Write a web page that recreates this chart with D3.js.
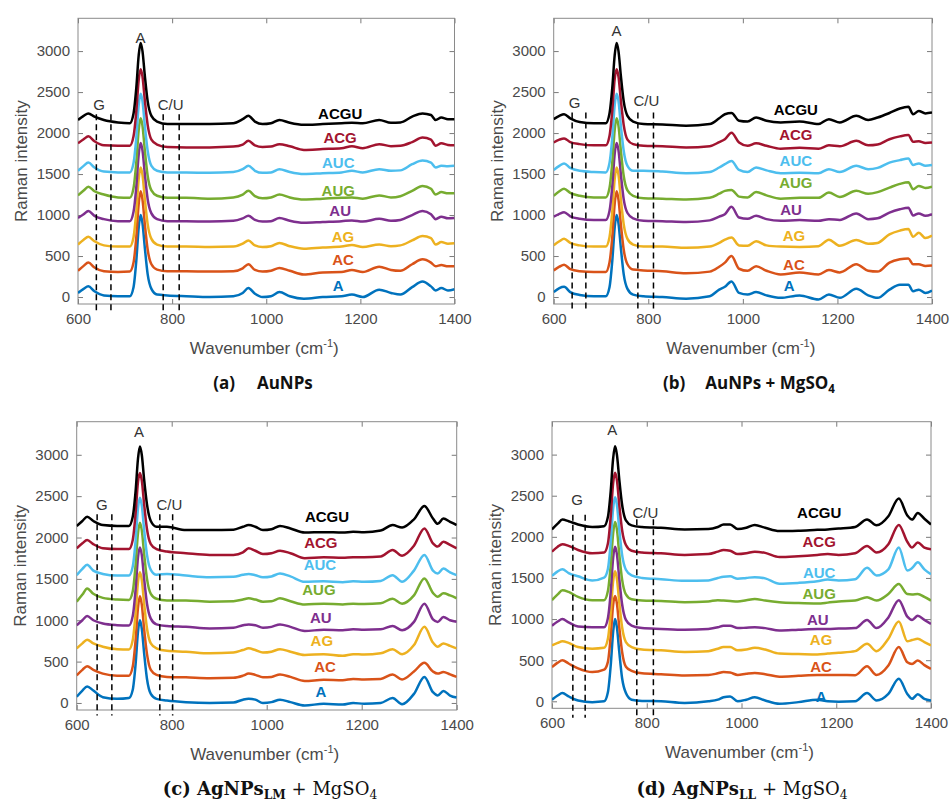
<!DOCTYPE html>
<html>
<head>
<meta charset="utf-8">
<script src="https://d3js.org/d3.v7.min.js"></script>
<style>
  body { margin:0; background:#fff; }
  text { font-family: "Liberation Sans", Arial, sans-serif; }
</style>
</head>
<body>
<script>
// shared wavenumber grid (cm-1)
var wn = [600,612,622,635,655,685, 710,718,724,729,733,737,742,748,756,768,
          790,830,880,930,950,962,976,992,1010,1028,1050,1080,1120,1160,1182,1205,
          1240,1265,1285,1310,1332,1350,1360,1372,1386,1400];

var names  = ["A","AC","AG","AU","AUG","AUC","ACG","ACGU"];
var colors = ["#0072BD","#D95319","#EDB120","#7E2F8E","#77AC30","#4DBEEE","#A2142F","#000000"];
var xTicks = [600,800,1000,1200,1400];
var yTicks = [0,500,1000,1500,2000,2500,3000];

// (a) AuNPs
var aSpectra = [
 [50,100,130,70,20,10, 10,120,450,850,1000,900,600,280,100,30, 20,10,0,10,50,110,40,0,10,60,10,-20,0,10,30,0,90,50,30,120,190,130,80,110,80,95],
 [320,380,420,360,315,305, 310,420,740,1140,1290,1190,890,580,400,335, 315,315,310,315,350,400,330,310,320,355,320,275,300,305,330,305,370,330,320,400,460,420,375,390,375,375],
 [640,700,735,680,630,615, 615,730,1050,1440,1580,1490,1195,890,710,640, 615,615,610,615,650,690,630,610,620,660,620,590,605,615,635,610,640,620,630,690,745,720,640,670,650,655],
 [965,1010,1050,990,950,925, 925,1040,1350,1740,1880,1790,1500,1195,1020,950, 925,925,920,930,960,990,940,920,925,965,930,905,915,925,935,920,955,930,940,1000,1050,1010,950,980,960,965],
 [1240,1300,1345,1290,1250,1215, 1210,1330,1650,2040,2180,2090,1790,1480,1300,1235, 1210,1210,1200,1215,1250,1295,1230,1205,1215,1250,1215,1190,1200,1210,1215,1200,1240,1215,1230,1295,1355,1320,1250,1280,1265,1265],
 [1540,1600,1640,1580,1530,1520, 1520,1635,1950,2340,2480,2390,2090,1785,1600,1540, 1520,1520,1515,1525,1560,1600,1540,1515,1520,1560,1525,1500,1510,1520,1540,1520,1560,1540,1545,1620,1665,1640,1580,1600,1595,1600],
 [1875,1925,1960,1900,1850,1845, 1845,1960,2270,2650,2780,2690,2400,2100,1920,1860, 1830,1825,1825,1835,1860,1905,1850,1830,1835,1865,1840,1795,1805,1815,1840,1815,1865,1840,1845,1890,1945,1920,1845,1875,1855,1850],
 [2160,2210,2240,2200,2160,2130, 2120,2240,2560,2950,3100,3000,2700,2390,2210,2140, 2110,2110,2110,2120,2170,2210,2140,2110,2120,2160,2125,2100,2110,2120,2125,2120,2160,2125,2130,2200,2240,2220,2160,2190,2170,2170]
];
var aLabelWn  = [1153,1163,1163,1157,1153,1153,1157,1157];
var aLabelVal = [139,456,739,1056,1300,1637,1950,2242];
var aDashes   = [639,670,781,815];

// (b) AuNPs + MgSO4
var bSpectra = [
 [60,110,125,60,25,10, 10,120,450,850,1000,900,600,280,100,30, 10,0,-20,10,90,125,190,50,30,60,20,-10,20,-30,30,-10,100,20,-10,90,150,150,70,90,50,80],
 [325,370,395,340,315,305, 305,420,740,1140,1290,1190,890,580,400,335, 325,315,290,310,370,420,500,345,320,375,320,275,300,275,330,300,400,320,310,420,460,470,400,400,380,385],
 [630,680,710,660,630,615, 615,730,1050,1440,1580,1490,1195,890,710,640, 615,615,600,615,660,700,725,630,625,680,630,615,610,620,700,625,695,650,660,765,810,830,735,785,720,750],
 [980,1015,1035,985,955,940, 940,1050,1360,1750,1880,1790,1500,1195,1025,960, 930,925,915,935,980,1010,1100,970,955,990,950,930,940,930,950,940,1020,950,960,1030,1070,1090,995,1020,990,1010],
 [1235,1290,1320,1270,1235,1215, 1215,1330,1650,2040,2180,2090,1790,1480,1300,1235, 1205,1200,1190,1210,1260,1295,1305,1225,1215,1280,1240,1200,1210,1210,1275,1220,1295,1260,1280,1335,1380,1400,1315,1355,1330,1345],
 [1550,1600,1630,1575,1540,1525, 1520,1635,1950,2340,2480,2390,2090,1785,1600,1540, 1540,1530,1510,1525,1580,1620,1660,1550,1525,1580,1545,1510,1515,1510,1560,1525,1600,1560,1575,1640,1670,1690,1610,1630,1600,1610],
 [1885,1920,1935,1890,1865,1850, 1850,1965,2280,2660,2780,2690,2400,2100,1920,1865, 1845,1840,1825,1840,1890,1925,2005,1885,1845,1875,1845,1810,1820,1810,1850,1840,1905,1850,1860,1925,1960,1975,1895,1900,1880,1885],
 [2170,2210,2230,2180,2135,2120, 2120,2240,2560,2950,3100,3000,2700,2390,2210,2140, 2110,2105,2090,2110,2180,2230,2245,2150,2140,2190,2150,2130,2140,2110,2170,2130,2210,2160,2190,2245,2300,2320,2230,2270,2240,2250]
];
var bLabelWn  = [1098,1108,1108,1102,1112,1112,1112,1112];
var bLabelVal = [140,400,750,1070,1390,1660,1985,2290];
var bDashes   = [639,668,778,811];

// (c) AgNPs LM + MgSO4
var cSpectra = [
 [75,150,200,150,70,50, 60,160,470,860,1000,900,600,290,110,50, 30,10,0,5,40,50,40,0,10,40,10,-30,-10,-20,0,-10,0,60,-15,110,315,130,90,145,90,65],
 [335,400,445,400,355,330, 330,440,760,1150,1290,1190,890,590,400,340, 315,310,300,305,330,355,340,310,315,345,315,265,280,275,290,285,290,345,285,380,485,380,355,375,345,315],
 [660,720,765,720,680,650, 645,760,1080,1460,1580,1490,1200,900,720,660, 630,620,600,610,640,660,640,610,620,650,620,580,590,570,590,585,600,650,590,700,920,730,680,720,690,660],
 [940,1000,1050,1000,960,940, 935,1050,1370,1760,1880,1790,1500,1200,1020,950, 930,920,900,910,940,950,940,910,920,950,920,870,885,880,890,885,890,930,880,980,1200,1010,980,1040,1000,980],
 [1225,1310,1385,1320,1270,1250, 1245,1350,1670,2050,2180,2090,1800,1500,1320,1260, 1240,1240,1225,1230,1250,1265,1250,1225,1230,1265,1230,1190,1200,1190,1200,1195,1205,1260,1200,1300,1505,1330,1285,1325,1300,1265],
 [1545,1620,1670,1600,1560,1540, 1540,1650,1960,2350,2480,2390,2090,1790,1610,1550, 1560,1540,1520,1525,1550,1560,1545,1520,1530,1565,1530,1465,1470,1460,1470,1465,1475,1545,1465,1600,1790,1600,1565,1625,1580,1545],
 [1870,1930,1970,1920,1870,1860, 1860,1970,2290,2670,2780,2690,2400,2100,1920,1860, 1830,1810,1790,1790,1820,1870,1840,1800,1810,1840,1810,1750,1760,1755,1760,1760,1770,1850,1780,1900,2110,1930,1890,1950,1910,1870],
 [2140,2200,2250,2200,2150,2140, 2140,2250,2560,2950,3100,3000,2700,2400,2200,2130, 2130,2090,2090,2095,2130,2150,2130,2090,2100,2140,2110,2060,2065,2060,2070,2065,2085,2150,2120,2220,2380,2230,2165,2230,2190,2150]
];
var cLabelWn  = [1114,1123,1116,1114,1110,1112,1114,1127];
var cLabelVal = [140,435,750,1035,1365,1675,1935,2250];
var cDashes   = [643,674,775,802];

// (d) AgNPs LL + MgSO4
var dSpectra = [
 [20,70,100,60,10,-10, 0,110,440,840,1000,900,600,280,100,20, 5,0,-20,0,20,50,60,0,20,50,10,-30,-10,20,0,-5,0,100,10,90,275,90,30,85,30,10],
 [415,470,500,460,400,355, 385,480,800,1170,1280,1190,900,600,420,370, 340,330,315,320,340,355,350,320,335,345,330,300,310,320,320,320,318,425,320,435,660,475,455,495,440,395],
 [680,710,730,710,660,640, 650,760,1080,1460,1580,1490,1200,900,720,660, 630,620,600,610,640,660,660,620,630,650,630,580,575,570,580,590,610,700,610,760,970,730,745,760,720,680],
 [920,970,1000,960,910,900, 900,1010,1330,1740,1880,1790,1490,1180,990,920, 890,880,870,880,900,920,920,890,895,900,890,860,870,880,880,885,890,990,890,1020,1230,1030,990,1040,990,940],
 [1230,1300,1350,1330,1270,1230, 1230,1340,1660,2040,2180,2090,1790,1480,1300,1240, 1225,1220,1205,1215,1230,1225,1220,1215,1230,1245,1225,1205,1195,1190,1200,1215,1225,1265,1225,1305,1425,1305,1300,1305,1270,1225],
 [1525,1580,1605,1560,1520,1470, 1505,1610,1940,2340,2480,2390,2090,1780,1600,1530, 1500,1485,1465,1470,1500,1515,1520,1490,1500,1510,1495,1430,1440,1460,1480,1470,1485,1625,1530,1605,1870,1590,1620,1690,1605,1545],
 [1820,1880,1910,1890,1840,1800, 1810,1920,2250,2650,2780,2690,2390,2080,1900,1830, 1810,1800,1780,1790,1820,1840,1830,1790,1800,1820,1805,1755,1765,1780,1790,1780,1800,1890,1810,1910,2145,1940,1870,1930,1870,1850],
 [2090,2160,2210,2190,2150,2120, 2130,2240,2560,2950,3100,3000,2700,2390,2200,2140, 2120,2110,2090,2095,2120,2150,2150,2095,2110,2145,2110,2070,2075,2085,2090,2100,2120,2210,2140,2250,2465,2260,2210,2290,2220,2150]
];
var dLabelWn  = [1168,1168,1168,1161,1164,1164,1164,1164];
var dLabelVal = [56,421,754,989,1305,1564,1941,2290];
var dDashes   = [644,670,779,814];

var W = 952, H = 805;
var svg = d3.select("body").append("svg").attr("width", W).attr("height", H);

function drawPanel(id, spectra, labelWn, labelVal, dashes, box, ann, cap) {
  var g = svg.append("g").attr("class", "panel-" + id);
  var x = d3.scaleLinear().domain([600, 1400]).range([box.x0, box.x1]);
  var y = d3.scaleLinear().domain([-85, 3400]).range([box.y1, box.y0]);

  g.append("clipPath").attr("id", "clip-" + id)
    .append("rect").attr("x", box.x0).attr("y", box.y0)
    .attr("width", box.x1 - box.x0).attr("height", box.y1 - box.y0);

  // axes, ticks inward on all sides (box on)
  var fmt = d3.format("d");
  var bottom = g.append("g").attr("transform", "translate(0," + box.y1 + ")")
    .call(d3.axisBottom(x).tickValues(xTicks).tickFormat(fmt).tickSizeInner(-5).tickSizeOuter(0).tickPadding(9));
  var left = g.append("g").attr("transform", "translate(" + box.x0 + ",0)")
    .call(d3.axisLeft(y).tickValues(yTicks).tickFormat(fmt).tickSizeInner(-5).tickSizeOuter(0).tickPadding(8));
  var top = g.append("g").attr("transform", "translate(0," + box.y0 + ")")
    .call(d3.axisTop(x).tickValues(xTicks).tickSizeInner(-5).tickSizeOuter(0).tickFormat(""));
  var right = g.append("g").attr("transform", "translate(" + box.x1 + ",0)")
    .call(d3.axisRight(y).tickValues(yTicks).tickSizeInner(-5).tickSizeOuter(0).tickFormat(""));
  [bottom, left, top, right].forEach(function(a) {
    a.select(".domain").remove();
    a.selectAll("line").attr("stroke", "#7a7a7a");
    a.selectAll("text").attr("fill", "#4a4a4a").style("font-size", "15px")
      .style("font-family", "'Liberation Sans', Arial, sans-serif");
  });
  g.append("rect").attr("x", box.x0).attr("y", box.y0)
    .attr("width", box.x1 - box.x0).attr("height", box.y1 - box.y0)
    .attr("fill", "none").attr("stroke", "#8a8a8a").attr("stroke-width", 1);

  // spectra
  var line = d3.line()
    .x(function(d, i) { return x(wn[i]); })
    .y(function(d) { return y(d); })
    .curve(d3.curveMonotoneX);
  g.append("g").attr("clip-path", "url(#clip-" + id + ")")
    .selectAll("path").data(spectra).enter().append("path")
    .attr("d", line)
    .attr("fill", "none")
    .attr("stroke", function(d, i) { return colors[i]; })
    .attr("stroke-width", 2.5)
    .attr("stroke-linejoin", "round");

  // dashed marker lines for G and C/U
  g.selectAll(".dash").data(dashes).enter().append("line")
    .attr("x1", function(d) { return x(d); }).attr("x2", function(d) { return x(d); })
    .attr("y1", function(d, i) { return y(i < 2 ? ann.gTop : ann.cTop); })
    .attr("y2", y(ann.bottom))
    .attr("stroke", "#000").attr("stroke-width", 1.5)
    .attr("stroke-dasharray", "6,4");

  // series labels
  g.selectAll(".lab").data(names).enter().append("text")
    .attr("x", function(d, i) { return x(labelWn[i]); })
    .attr("y", function(d, i) { return y(labelVal[i]); })
    .attr("dy", "0.36em")
    .attr("text-anchor", "middle")
    .attr("fill", function(d, i) { return colors[i]; })
    .style("font-size", "15px").style("font-weight", "bold")
    .text(function(d) { return d; });

  // peak annotations
  ann.marks.forEach(function(m) {
    g.append("text").attr("x", x(m[1])).attr("y", y(m[2])).attr("dy", "0.36em")
      .attr("text-anchor", "middle").attr("fill", "#333")
      .style("font-size", "15px").text(m[0]);
  });

  // axis titles
  g.append("text")
    .attr("transform", "translate(" + (box.x0 - 51) + "," + ((box.y0 + box.y1) / 2) + ") rotate(-90)")
    .attr("text-anchor", "middle").attr("fill", "#4a4a4a")
    .style("font-size", "17px").text("Raman intensity");
  var xl = g.append("text")
    .attr("x", (box.x0 + box.x1) / 2 - 2).attr("y", box.y1 + 50)
    .attr("text-anchor", "middle").attr("fill", "#4a4a4a")
    .style("font-size", "17px");
  xl.append("tspan").text("Wavenumber (cm");
  xl.append("tspan").attr("dy", -7).style("font-size", "11px").text("-1");
  xl.append("tspan").attr("dy", 7).text(")");

  // caption
  var c = g.append("text").attr("x", cap.x).attr("y", cap.y).attr("fill", "#111")
    .attr("text-anchor", "middle");
  cap.parts.forEach(function(p) {
    var t = c.append("tspan").text(p.t)
      .style("font-family", cap.font)
      .style("font-size", (p.sub ? cap.size * 0.68 : cap.size) + "px")
      .style("font-weight", p.w || "bold");
    if (p.dy) t.attr("dy", p.dy);
    if (p.dx) t.attr("dx", p.dx);
  });
}

var sansCap = "'Open Sans', 'Noto Sans', sans-serif";
var serifCap = "'DejaVu Serif', 'Liberation Serif', serif";

drawPanel("a", aSpectra, aLabelWn, aLabelVal, aDashes,
  {x0: 78, x1: 454.5, y0: 18.3, y1: 304},
  {gTop: 2230, cTop: 2230, bottom: -160,
   marks: [["A", 733, 3170], ["G", 645, 2350], ["C/U", 797, 2350]]},
  {x: 263, y: 389, font: sansCap, size: 17,
   parts: [{t: "(a)"}, {t: "AuNPs", dx: 22}]});

drawPanel("b", bSpectra, bLabelWn, bLabelVal, bDashes,
  {x0: 553.7, x1: 932, y0: 18.3, y1: 304},
  {gTop: 2250, cTop: 2250, bottom: -160,
   marks: [["A", 733, 3250], ["G", 644, 2370], ["C/U", 796, 2400]]},
  {x: 749, y: 389, font: sansCap, size: 17,
   parts: [{t: "(b)"}, {t: "AuNPs + MgSO", dx: 20}, {t: "4", sub: true, dy: 4}]});

drawPanel("c", cSpectra, cLabelWn, cLabelVal, cDashes,
  {x0: 76.7, x1: 456.7, y0: 421.7, y1: 710},
  {gTop: 2280, cTop: 2280, bottom: -150,
   marks: [["A", 731, 3275], ["G", 653, 2400], ["C/U", 795, 2400]]},
  {x: 270, y: 795, font: serifCap, size: 18,
   parts: [{t: "(c) AgNPs"}, {t: "LM", sub: true, dy: 4},
           {t: " + MgSO", dy: -4, w: "normal"}, {t: "4", sub: true, dy: 4, w: "normal"}]});

drawPanel("d", dSpectra, dLabelWn, dLabelVal, dDashes,
  {x0: 552, x1: 931, y0: 421.7, y1: 708.3},
  {gTop: 2270, cTop: 2215, bottom: -200,
   marks: [["A", 727, 3300], ["G", 653, 2450], ["C/U", 797, 2300]]},
  {x: 742, y: 795, font: serifCap, size: 18,
   parts: [{t: "(d) AgNPs"}, {t: "LL", sub: true, dy: 4},
           {t: " + MgSO", dy: -4, w: "normal"}, {t: "4", sub: true, dy: 4, w: "normal"}]});
</script>
</body>
</html>
